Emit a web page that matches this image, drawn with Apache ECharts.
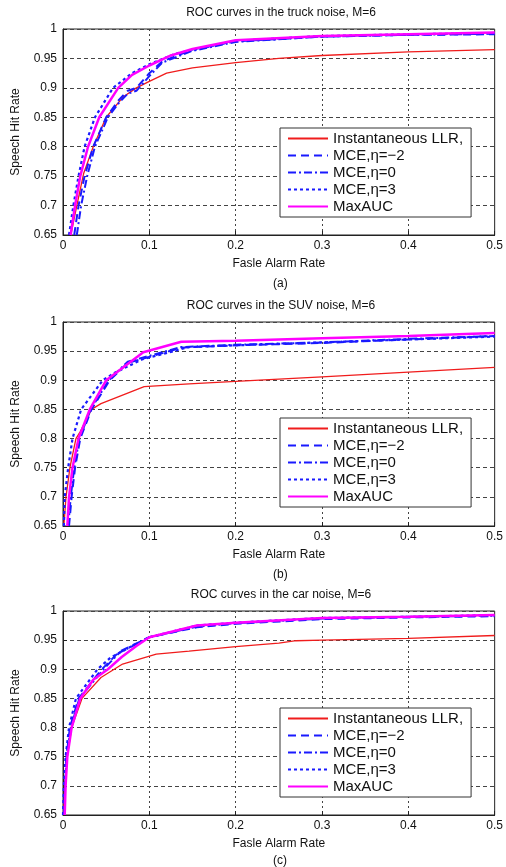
<!DOCTYPE html>
<html>
<head>
<meta charset="utf-8">
<script src="https://cdn.jsdelivr.net/npm/echarts@6/dist/echarts.min.js"></script>
<style>
  html, body { margin: 0; padding: 0; background: #fff; }
  #main { width: 506px; height: 867px; }
</style>
</head>
<body>
<div id="main"></div>
<script>
// series names (legend order)
var names = ['Instantaneous LLR,', 'MCE,η=−2', 'MCE,η=0', 'MCE,η=3', 'MaxAUC'];
var titles = ['ROC curves in the truck noise, M=6', 'ROC curves in the SUV noise, M=6', 'ROC curves in the car noise, M=6'];
var captions = ['(a)', '(b)', '(c)'];
var xTicks = [0, 0.5, 0.1];   // min, max, step
var yTicks = [0.65, 1, 0.05];

// (a) truck noise: [false alarm rate, speech hit rate]
var truckLLR = [[0.009, 0.65], [0.016, 0.70], [0.024, 0.755], [0.035, 0.80], [0.05, 0.85], [0.07, 0.885], [0.085, 0.90], [0.1, 0.911], [0.12, 0.925], [0.15, 0.934], [0.2, 0.943], [0.25, 0.95], [0.3, 0.955], [0.4, 0.961], [0.5, 0.965]];
var truckM2 = [[0.013, 0.65], [0.018, 0.70], [0.025, 0.75], [0.035, 0.80], [0.05, 0.85], [0.065, 0.88], [0.075, 0.895], [0.085, 0.90], [0.1, 0.925], [0.115, 0.945], [0.15, 0.965], [0.2, 0.979], [0.3, 0.987], [0.4, 0.99], [0.5, 0.991]];
var truckM0 = [[0.016, 0.65], [0.021, 0.70], [0.028, 0.75], [0.037, 0.80], [0.052, 0.85], [0.065, 0.875], [0.075, 0.89], [0.085, 0.895], [0.1, 0.92], [0.115, 0.943], [0.15, 0.963], [0.2, 0.978], [0.3, 0.987], [0.4, 0.99], [0.5, 0.992]];
var truckM3 = [[0.007, 0.65], [0.012, 0.70], [0.018, 0.75], [0.025, 0.80], [0.037, 0.85], [0.058, 0.90], [0.08, 0.925], [0.1, 0.94], [0.13, 0.958], [0.2, 0.98], [0.3, 0.988], [0.4, 0.991], [0.5, 0.993]];
var truckAUC = [[0.0088, 0.65], [0.014, 0.70], [0.020, 0.75], [0.029, 0.80], [0.042, 0.85], [0.064, 0.90], [0.08, 0.922], [0.1, 0.938], [0.125, 0.955], [0.15, 0.966], [0.2, 0.981], [0.3, 0.988], [0.4, 0.991], [0.5, 0.994]];

// (b) SUV noise
var suvLLR = [[0.001, 0.65], [0.0035, 0.70], [0.008, 0.75], [0.015, 0.80], [0.020, 0.812], [0.033, 0.85], [0.044, 0.86], [0.094, 0.889], [0.146, 0.894], [0.2, 0.898], [0.3, 0.906], [0.4, 0.914], [0.5, 0.922]];
var suvM2 = [[0.007, 0.65], [0.010, 0.70], [0.014, 0.75], [0.020, 0.80], [0.033, 0.85], [0.054, 0.90], [0.075, 0.93], [0.1, 0.94], [0.137, 0.956], [0.2, 0.96], [0.3, 0.964], [0.4, 0.97], [0.5, 0.976]];
var suvM0 = [[0.006, 0.65], [0.009, 0.70], [0.013, 0.75], [0.019, 0.80], [0.032, 0.85], [0.053, 0.90], [0.075, 0.932], [0.1, 0.942], [0.137, 0.957], [0.2, 0.961], [0.3, 0.965], [0.4, 0.971], [0.5, 0.976]];
var suvM3 = [[0.001, 0.65], [0.002, 0.70], [0.006, 0.75], [0.011, 0.80], [0.021, 0.85], [0.046, 0.90], [0.06, 0.913], [0.092, 0.936], [0.146, 0.957], [0.2, 0.96], [0.3, 0.965], [0.4, 0.97], [0.5, 0.975]];
var suvAUC = [[0.005, 0.65], [0.007, 0.70], [0.011, 0.75], [0.018, 0.80], [0.031, 0.85], [0.050, 0.90], [0.093, 0.948], [0.137, 0.966], [0.2, 0.968], [0.3, 0.972], [0.4, 0.976], [0.5, 0.981]];

// (c) car noise
var carLLR = [[0.001, 0.65], [0.002, 0.70], [0.005, 0.75], [0.010, 0.80], [0.022, 0.85], [0.044, 0.886], [0.069, 0.909], [0.108, 0.926], [0.146, 0.931], [0.2, 0.939], [0.25, 0.945], [0.27, 0.949], [0.3, 0.95], [0.4, 0.953], [0.5, 0.958]];
var carM2 = [[0.001, 0.65], [0.004, 0.75], [0.008, 0.80], [0.018, 0.85], [0.045, 0.90], [0.065, 0.93], [0.1, 0.955], [0.155, 0.972], [0.2, 0.978], [0.3, 0.986], [0.4, 0.989], [0.5, 0.991]];
var carM0 = [[0.001, 0.65], [0.004, 0.75], [0.009, 0.80], [0.019, 0.85], [0.047, 0.90], [0.065, 0.928], [0.1, 0.955], [0.155, 0.973], [0.2, 0.979], [0.3, 0.987], [0.4, 0.99], [0.5, 0.992]];
var carM3 = [[0.0, 0.65], [0.001, 0.70], [0.003, 0.75], [0.007, 0.80], [0.015, 0.85], [0.040, 0.90], [0.055, 0.92], [0.08, 0.94], [0.1, 0.955], [0.155, 0.975], [0.2, 0.98], [0.3, 0.988], [0.4, 0.99], [0.5, 0.993]];
var carAUC = [[0.002, 0.65], [0.003, 0.70], [0.005, 0.75], [0.010, 0.80], [0.020, 0.85], [0.035, 0.882], [0.052, 0.90], [0.068, 0.921], [0.085, 0.94], [0.1, 0.955], [0.155, 0.975], [0.2, 0.98], [0.3, 0.988], [0.4, 0.99], [0.5, 0.993]];

var panels = [
    [truckLLR, truckM2, truckM0, truckM3, truckAUC],
    [suvLLR, suvM2, suvM0, suvM3, suvAUC],
    [carLLR, carM2, carM0, carM3, carAUC]
];

var FONT = 'Liberation Sans, Arial, sans-serif';
var gridTops = [29, 322, 611];
var gridH = [206, 204, 204];
var legendTops = [128, 418, 708];
var captionTops = [278, 569, 855];

// line looks for each curve
var styles = [
    { color: '#f01c1c', width: 1.3, type: 'solid' },
    { color: '#1a1aff', width: 2, type: [8, 5] },
    { color: '#1a1aff', width: 2, type: [8, 3, 2, 3] },
    { color: '#1a1aff', width: 2.2, type: [3, 3] },
    { color: '#ff00ff', width: 2.5, type: 'solid' }
];

var myChart = echarts.init(document.getElementById('main'));

var grid = [], xAxis = [], yAxis = [], title = [], legend = [], series = [], graphic = [];
for (var p = 0; p < 3; p++) {
    grid.push({
        left: 63, width: 436, top: gridTops[p], height: gridH[p],
        show: true, borderColor: '#222', borderWidth: 1, backgroundColor: '#fff'
    });
    xAxis.push({
        type: 'value', gridIndex: p,
        min: xTicks[0], max: xTicks[1], interval: xTicks[2],
        name: 'Fasle Alarm Rate', nameLocation: 'middle', nameGap: 23,
        nameTextStyle: { fontFamily: FONT, fontSize: 12, color: '#111' },
        axisLine: { show: true, onZero: false, lineStyle: { color: '#222' } },
        axisTick: { show: true, inside: true, length: 4, lineStyle: { color: '#222' } },
        axisLabel: { fontFamily: FONT, fontSize: 12, color: '#111', margin: 5 },
        splitLine: { show: true, lineStyle: { color: '#444', type: [2, 3], width: 1 } }
    });
    yAxis.push({
        type: 'value', gridIndex: p,
        min: yTicks[0], max: yTicks[1], interval: yTicks[2],
        name: 'Speech Hit Rate', nameLocation: 'middle', nameGap: 41, nameRotate: 90,
        nameTextStyle: { fontFamily: FONT, fontSize: 12, color: '#111' },
        axisLine: { show: true, onZero: false, lineStyle: { color: '#222' } },
        axisTick: { show: true, inside: true, length: 4, lineStyle: { color: '#222' } },
        axisLabel: { fontFamily: FONT, fontSize: 12, color: '#111', margin: 6 },
        splitLine: { show: true, lineStyle: { color: '#444', type: [4, 3], width: 1 } }
    });
    title.push({
        text: titles[p], left: 281, textAlign: 'center', top: gridTops[p] - 22, padding: 0,
        textStyle: { fontFamily: FONT, fontSize: 12, fontWeight: 'normal', color: '#111' }
    });
    legend.push({
        data: names, orient: 'vertical', left: 280, top: legendTops[p],
        width: 193, padding: [3, 8, 3, 7], itemGap: 2, itemWidth: 40, itemHeight: 14,
        borderColor: '#333', borderWidth: 1, backgroundColor: '#fff',
        selectedMode: false,
        itemStyle: { opacity: 0 },
        textStyle: { fontFamily: FONT, fontSize: 15, color: '#111' }
    });
    graphic.push({
        type: 'text', left: 273, top: captionTops[p],
        style: { text: captions[p], fontFamily: FONT, fontSize: 12, fill: '#111' }
    });
    for (var s = 0; s < 5; s++) {
        series.push({
            name: names[s], type: 'line', xAxisIndex: p, yAxisIndex: p,
            data: panels[p][s], showSymbol: false, symbol: 'none',
            smooth: false, clip: true, silent: true,
            lineStyle: { color: styles[s].color, width: styles[s].width, type: styles[s].type },
            itemStyle: { color: styles[s].color },
            z: 2 + s
        });
    }
}

var option = {
    animation: false,
    backgroundColor: '#fff',
    title: title,
    legend: legend,
    grid: grid,
    xAxis: xAxis,
    yAxis: yAxis,
    graphic: graphic,
    series: series
};
myChart.setOption(option);
</script>
</body>
</html>
